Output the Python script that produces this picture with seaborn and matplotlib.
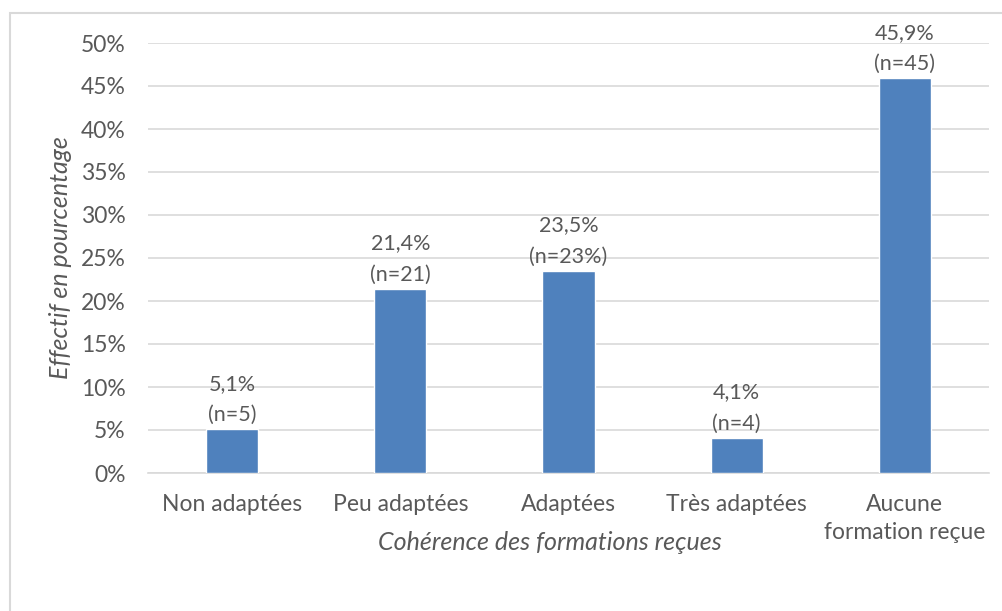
import pandas as pd
import seaborn as sns
import matplotlib.pyplot as plt
from matplotlib.patches import Rectangle
from matplotlib.ticker import FuncFormatter

# Data
categories = ["Non adaptées", "Peu adaptées", "Adaptées", "Très adaptées",
              "Aucune\nformation reçue"]
shares = [0.051, 0.214, 0.235, 0.041, 0.459]
value_labels = ["5,1%", "21,4%", "23,5%", "4,1%", "45,9%"]
count_labels = ["(n=5)", "(n=21)", "(n=23%)", "(n=4)", "(n=45)"]

df = pd.DataFrame({"categorie": categories, "part": shares})

sns.set_theme(style="white")
plt.rcParams["font.family"] = ["Lato", "DejaVu Sans"]

TEXT = "#595959"
GRID = "#D9D9D9"
BAR = "#4F81BD"

fig = plt.figure(figsize=(10.03, 6.11), dpi=100)
ax = fig.add_axes([148 / 1003, 1 - 473 / 611, 841 / 1003, 430 / 611])

# outer chart frame (cut at the right and bottom in the reference)
fig.patches.append(Rectangle((10 / 1003, -0.1), 1.1, 1 - 13 / 611 + 0.1,
                             transform=fig.transFigure, fill=False,
                             edgecolor=GRID, linewidth=1.5))

sns.barplot(data=df, x="categorie", y="part", color=BAR, width=0.31,
            saturation=1, ax=ax, zorder=3)

ax.set_ylim(0, 0.5)
ax.set_yticks([i * 0.05 for i in range(11)])
ax.yaxis.set_major_formatter(FuncFormatter(lambda v, _: f"{v * 100:.0f}%"))
ax.grid(axis="y", color=GRID, linewidth=1.2, zorder=0)
for side in ["top", "right", "left"]:
    ax.spines[side].set_visible(False)
ax.spines["bottom"].set_color(GRID)
ax.spines["bottom"].set_linewidth(1.2)
ax.tick_params(axis="both", length=0, labelsize=16.5, colors=TEXT)
ax.tick_params(axis="y", pad=16)
ax.tick_params(axis="x", pad=15)
for lab in ax.get_xticklabels():
    lab.set_linespacing(1.4)

ax.set_xlabel("Cohérence des formations reçues", fontsize=18, color=TEXT,
              style="italic")
ax.xaxis.set_label_coords(0.478, -0.135)
ax.set_ylabel("Effectif en pourcentage", fontsize=18, color=TEXT,
              style="italic", va="center")
ax.yaxis.set_label_coords(-0.104, 0.5)

for i, (v, vl, cl) in enumerate(zip(shares, value_labels, count_labels)):
    ax.annotate(f"{vl}\n{cl}", (i, v), xytext=(0, 3), textcoords="offset points",
                ha="center", va="bottom", fontsize=15.5, color=TEXT,
                linespacing=1.7)

fig.savefig("out.png", dpi=100)
